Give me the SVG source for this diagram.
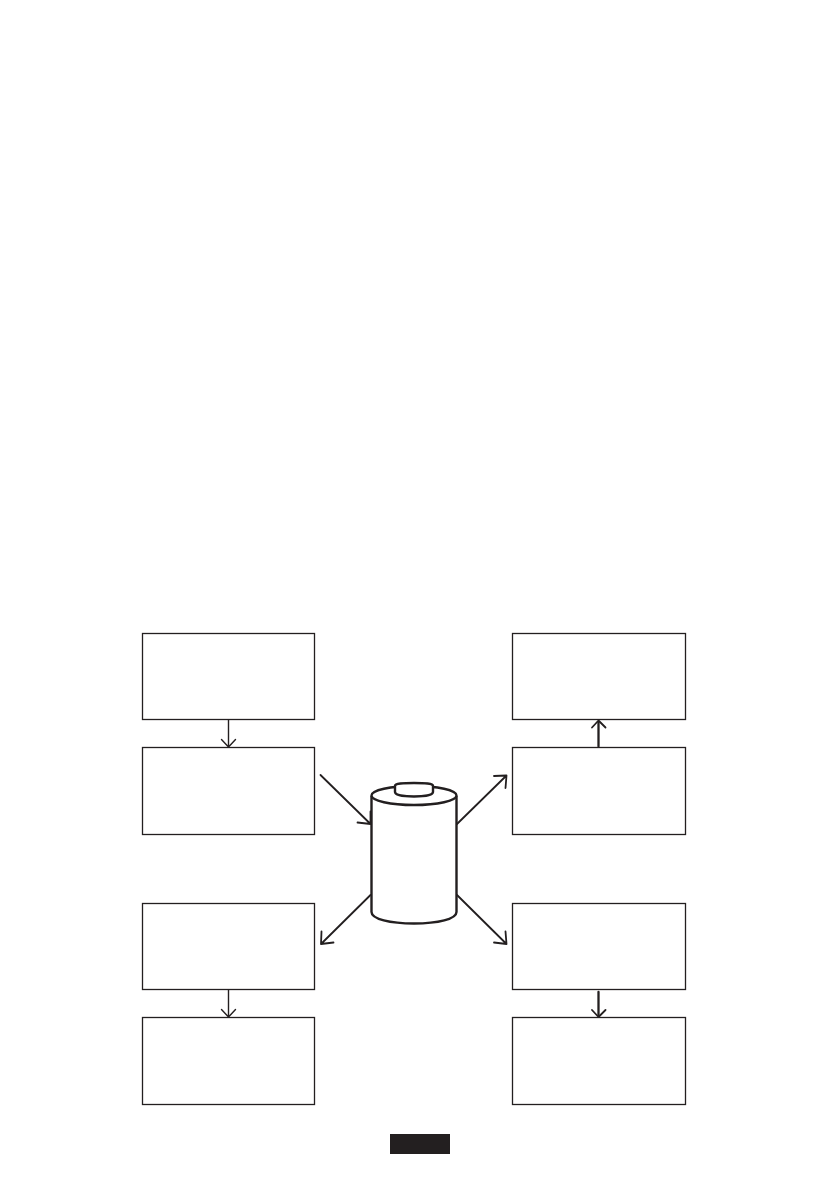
<svg xmlns="http://www.w3.org/2000/svg" width="839" height="1191" viewBox="0 0 839 1191">
<style>
.box{fill:#fff;stroke:#231f20;stroke-width:1.3}
.c{fill:none;stroke:#231f20;stroke-width:1.4;stroke-linecap:round;stroke-linejoin:round}
.t{stroke-width:2.3}
.m{stroke-width:1.8}
.bat{fill:#fff;stroke:#231f20;stroke-width:2.4}
</style>
<rect width="839" height="1191" fill="#fff"/>
<g id="node-left-1"><rect class="box" x="142.500" y="633.500" width="172" height="86"/></g>
<g id="node-left-2"><rect class="box" x="142.500" y="747.500" width="172" height="87"/></g>
<g id="node-left-3"><rect class="box" x="142.500" y="903.500" width="172" height="86"/></g>
<g id="node-left-4"><rect class="box" x="142.500" y="1017.500" width="172" height="87"/></g>
<g id="node-right-1"><rect class="box" x="512.500" y="633.500" width="173" height="86"/></g>
<g id="node-right-2"><rect class="box" x="512.500" y="747.500" width="173" height="87"/></g>
<g id="node-right-3"><rect class="box" x="512.500" y="903.500" width="173" height="86"/></g>
<g id="node-right-4"><rect class="box" x="512.500" y="1017.500" width="173" height="87"/></g>
<g id="battery">
<path class="bat" d="M371.500 796V912C371.500 919 390 923.500 414 923.500S456.500 919 456.500 912V796"/>
<ellipse class="bat" cx="414" cy="795.500" rx="42.500" ry="9.500"/>
<path class="bat" d="M395 786C395 783.500 403 783 414 783S433 783.500 433 786V792C433 795 424 796.500 414 796.500S395 795 395 792Z"/>
</g>
<g id="label-bar"><rect x="390" y="1134" width="60" height="20" fill="#231f20"/></g>
<g id="connectors">
<path class="c" d="M228.500 720V746.500M221.500 739.500L228.500 747L235.500 739.500"/>
<path class="c t" d="M598.500 746.500V722"/>
<path class="c m" d="M592 727.500L598.500 720.500L605.500 727.500"/>
<path class="c" d="M228.500 990V1016.500M221.500 1009.500L228.500 1017L235.500 1009.500"/>
<path class="c t" d="M598.500 992V1015"/>
<path class="c m" d="M592 1010L598.500 1017L605.500 1010"/>
<path class="c m" d="M320.500 775L370.500 824M370.500 811.500L370.500 824L357.500 822.500"/>
<path class="c m" d="M457 824L506.500 775.500M494 776L506.500 775.500L505.500 788"/>
<path class="c m" d="M370.500 895L321 944M321.500 931.500L321 944L333.500 942.500"/>
<path class="c m" d="M457 895L506.500 944M505.500 931.500L506.500 944L494 942.500"/>
</g>
</svg>
